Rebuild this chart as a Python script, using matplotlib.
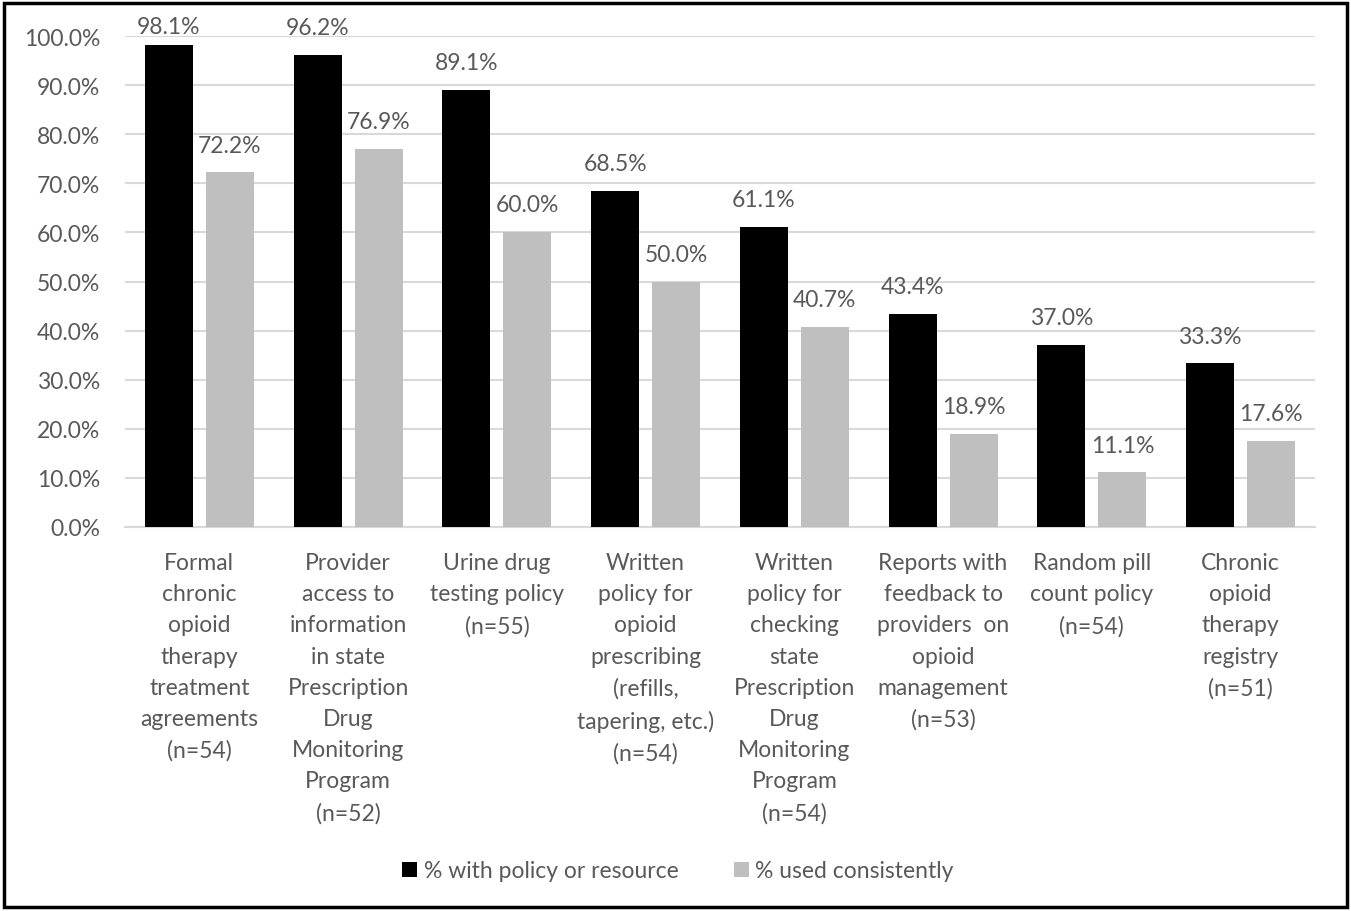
import numpy as np
import matplotlib.pyplot as plt
from matplotlib.patches import Rectangle

plt.rcParams['font.family'] = ['Lato', 'DejaVu Sans']

categories = [
    'Formal\nchronic\nopioid\ntherapy\ntreatment\nagreements\n(n=54)',
    'Provider\naccess to\ninformation\nin state\nPrescription\nDrug\nMonitoring\nProgram\n(n=52)',
    'Urine drug\ntesting policy\n(n=55)',
    'Written\npolicy for\nopioid\nprescribing\n(refills,\ntapering, etc.)\n(n=54)',
    'Written\npolicy for\nchecking\nstate\nPrescription\nDrug\nMonitoring\nProgram\n(n=54)',
    'Reports with\nfeedback to\nproviders  on\nopioid\nmanagement\n(n=53)',
    'Random pill\ncount policy\n(n=54)',
    'Chronic\nopioid\ntherapy\nregistry\n(n=51)',
]
with_policy = [98.1, 96.2, 89.1, 68.5, 61.1, 43.4, 37.0, 33.3]
used_consistently = [72.2, 76.9, 60.0, 50.0, 40.7, 18.9, 11.1, 17.6]

txt = '#595959'
fs = 16.5
fig = plt.figure(figsize=(13.51, 9.12), dpi=100)
ax = fig.add_axes([125 / 1351, 1 - 528 / 912, 1190 / 1351, 491 / 912])

x = np.arange(len(categories))
w = 0.323
off = 0.205
b1 = ax.bar(x - off, with_policy, w, color='black', label='% with policy or resource', zorder=3)
b2 = ax.bar(x + off, used_consistently, w, color='#bfbfbf', label='% used consistently', zorder=3)

# labels sit above the bars, pushed down if they would leave the plot area
for bars, vals in [(b1, with_policy), (b2, used_consistently)]:
    for r, v in zip(bars, vals):
        ax.text(r.get_x() + r.get_width() / 2, min(v + 5.6, 102.0), '%.1f%%' % v,
                ha='center', va='center', fontsize=fs, color=txt, clip_on=False)

ax.set_xlim(-0.5, len(categories) - 0.5)
ax.set_ylim(0, 100)
ax.set_yticks(np.arange(0, 101, 10))
ax.set_yticklabels(['%.1f%%' % t for t in np.arange(0, 101, 10)])
ax.grid(axis='y', color='#d9d9d9', lw=1.5, zorder=0)
for s in ['top', 'right', 'left']:
    ax.spines[s].set_visible(False)
ax.spines['bottom'].set_color('#d9d9d9')
ax.spines['bottom'].set_linewidth(1.5)
ax.tick_params(axis='both', length=0, labelsize=fs, colors=txt)
ax.tick_params(axis='y', pad=18)
ax.set_xticks(x)
ax.set_xticklabels(categories, linespacing=1.6, va='top')
ax.tick_params(axis='x', pad=18)

fig.legend(loc='center', bbox_to_anchor=(678 / 1351, 1 - 872 / 912), ncol=2, frameon=False,
           fontsize=fs, labelcolor=txt, handlelength=0.65, handleheight=0.65,
           handletextpad=0.3, columnspacing=2.4)

fig.patches.append(Rectangle((4 / 1351, 4 / 912), 1343 / 1351, 904 / 912, transform=fig.transFigure,
                             fill=False, edgecolor='black', lw=2.5))

fig.savefig('out.png', dpi=100)
